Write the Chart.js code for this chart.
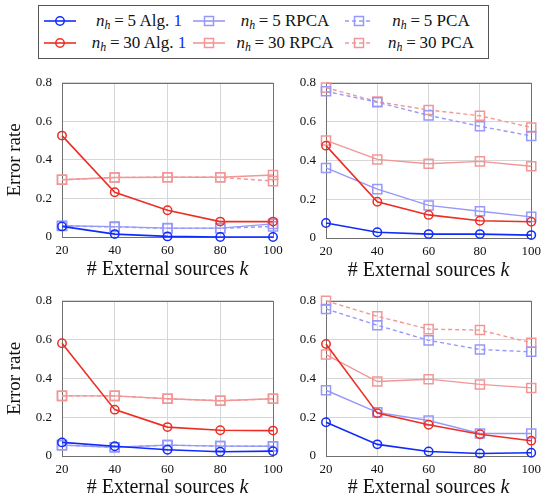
<!DOCTYPE html>
<html><head><meta charset="utf-8">
<script src="https://cdn.jsdelivr.net/npm/chart.js@4/dist/chart.umd.min.js"></script>
<style>
body{margin:0;background:#fff;}
#wrap{position:relative;width:547px;height:498px;overflow:hidden;background:#fff;font-family:"Liberation Serif",serif;}
canvas{position:absolute;}
#legend{position:absolute;left:38px;top:5px;width:451px;height:54px;border:1px solid #555;box-sizing:border-box;}
.lt{position:absolute;width:160px;text-align:center;font-family:"Liberation Serif",serif;font-size:17px;line-height:20px;white-space:nowrap;color:#111;}
.lt sub{font-size:70%;vertical-align:-3px;line-height:0;}
.lt .eq{padding:0 0.22em;}
.lm{position:absolute;}
</style></head>
<body>
<div id="wrap">
  <div id="legend"></div>
  <canvas id="tl" width="290" height="220" style="left:0;top:65px"></canvas>
  <canvas id="tr" width="277" height="220" style="left:270px;top:65px"></canvas>
  <canvas id="bl" width="290" height="215" style="left:0;top:283px"></canvas>
  <canvas id="br" width="277" height="215" style="left:270px;top:283px"></canvas>
</div>
<script>
// ---- data ----
const kValues = [20, 40, 60, 80, 100];
const yTickValues = [0, 0.2, 0.4, 0.6, 0.8];

// top-left panel
const tlAlg5   = [0.055, 0.015, 0.003, 0.000, 0.000];
const tlAlg30  = [0.526, 0.232, 0.139, 0.080, 0.080];
const tlRpca5  = [0.058, 0.054, 0.046, 0.046, 0.068];
const tlRpca30 = [0.297, 0.309, 0.310, 0.310, 0.322];
const tlPca5   = [0.057, 0.052, 0.045, 0.045, 0.055];
const tlPca30  = [0.297, 0.309, 0.310, 0.310, 0.290];

// top-right panel
const trAlg5   = [0.077, 0.030, 0.020, 0.020, 0.015];
const trAlg30  = [0.476, 0.187, 0.119, 0.089, 0.084];
const trRpca5  = [0.361, 0.252, 0.168, 0.138, 0.109];
const trRpca30 = [0.503, 0.405, 0.383, 0.395, 0.370];
const trPca5   = [0.756, 0.700, 0.632, 0.576, 0.526];
const trPca30  = [0.775, 0.703, 0.660, 0.630, 0.570];

// bottom-left panel
const blAlg5   = [0.070, 0.050, 0.032, 0.022, 0.025];
const blAlg30  = [0.581, 0.239, 0.149, 0.133, 0.131];
const blRpca5  = [0.056, 0.045, 0.056, 0.051, 0.050];
const blRpca30 = [0.310, 0.310, 0.295, 0.285, 0.295];
const blPca5   = [0.056, 0.045, 0.056, 0.051, 0.050];
const blPca30  = [0.310, 0.310, 0.295, 0.285, 0.295];

// bottom-right panel
const brAlg5   = [0.174, 0.060, 0.023, 0.013, 0.017];
const brAlg30  = [0.577, 0.221, 0.161, 0.112, 0.079];
const brRpca5  = [0.339, 0.225, 0.183, 0.116, 0.116];
const brRpca30 = [0.523, 0.384, 0.396, 0.369, 0.351];
const brPca5   = [0.758, 0.674, 0.596, 0.549, 0.537];
const brPca30  = [0.800, 0.720, 0.654, 0.649, 0.584];

const seriesLabels = ['n_h = 5 Alg. 1','n_h = 30 Alg. 1','n_h = 5 RPCA','n_h = 30 RPCA','n_h = 5 PCA','n_h = 30 PCA'];

// ---- styles ----
const BLUE = 'rgb(16,44,250)', RED = 'rgb(236,46,36)';
const LBLUE = 'rgb(150,152,250)', LRED = 'rgb(242,150,150)';
const styles = [
  {color: BLUE,  point: 'circle', dash: []},
  {color: RED,   point: 'circle', dash: []},
  {color: LBLUE, point: 'rect',   dash: []},
  {color: LRED,  point: 'rect',   dash: []},
  {color: LBLUE, point: 'rect',   dash: [4, 3]},
  {color: LRED,  point: 'rect',   dash: [4, 3]},
];

function makeDatasets(arrs) {
  return arrs.map((vals, i) => {
    const s = styles[i];
    return {
      label: seriesLabels[i],
      data: vals.map((v, j) => ({x: kValues[j], y: v})),
      borderColor: s.color,
      backgroundColor: 'rgba(0,0,0,0)',
      borderWidth: i < 2 ? 1.6 : 1.4,
      borderDash: s.dash,
      pointStyle: s.point,
      pointRadius: s.point === 'circle' ? 4.2 : 6.4,
      pointBorderWidth: 1.5,
      pointBorderColor: s.color,
      pointBackgroundColor: 'rgba(0,0,0,0)',
      tension: 0,
      clip: false,
    };
  });
}

const framePlugin = {
  id: 'frame',
  beforeDatasetsDraw(chart) {
    const {ctx, chartArea: a} = chart;
    ctx.save();
    ctx.strokeStyle = '#707070';
    ctx.lineWidth = 1;
    const l = Math.round(a.left) + 0.5, t = Math.round(a.top) + 0.5;
    const r = Math.round(a.right) + 0.5, b = Math.round(a.bottom) + 0.5;
    ctx.strokeRect(l, t, r - l, b - t);
    ctx.restore();
  },
  afterDraw(chart, args, opts) {
    const {ctx, chartArea: a} = chart;
    ctx.save();
    ctx.fillStyle = '#111';
    ctx.textBaseline = 'alphabetic';
    const f1 = '20px "Liberation Serif"', f2 = 'italic 20px "Liberation Serif"';
    const t1 = '# External sources ', t2 = 'k';
    ctx.font = f1; const w1 = ctx.measureText(t1).width;
    ctx.font = f2; const w2 = ctx.measureText(t2).width;
    const x0 = (a.left + a.right) / 2 - (w1 + w2) / 2;
    const y = a.bottom + opts.offset;
    ctx.font = f1; ctx.textAlign = 'left'; ctx.fillText(t1, x0, y);
    ctx.font = f2; ctx.fillText(t2, x0 + w1, y);
    ctx.restore();
  }
};

Chart.defaults.font.family = '"Liberation Serif", serif';
Chart.defaults.color = '#111';

function makeChart(id, arrs, g) {
  new Chart(document.getElementById(id), {
    type: 'line',
    data: {datasets: makeDatasets(arrs)},
    plugins: [framePlugin],
    options: {
      responsive: false,
      animation: false,
      devicePixelRatio: 1,
      layout: {padding: {top: g.top, right: g.right, left: 0, bottom: 0}},
      plugins: {legend: {display: false}, tooltip: {enabled: false}, frame: {offset: g.titleOffset}},
      scales: {
        x: {
          type: 'linear', min: 20, max: 100,
          afterBuildTicks: s => { s.ticks = kValues.map(v => ({value: v})); },
          afterFit: s => { s.height = g.xh; },
          grid: {color: '#d6d6d6', lineWidth: 1, drawTicks: false},
          border: {display: false},
          ticks: {font: {size: 13}, padding: 6, maxRotation: 0, color: '#111'},
        },
        y: {
          type: 'linear', min: 0, max: 0.8,
          afterBuildTicks: s => { s.ticks = yTickValues.map(v => ({value: v})); },
          afterFit: s => { s.width = g.yw; },
          grid: {color: '#d6d6d6', lineWidth: 1, drawTicks: false},
          border: {display: false},
          ticks: {font: {size: 13}, padding: 10, color: '#111',
                  callback: v => String(Math.round(v * 10) / 10)},
          title: {display: g.ytitle, text: 'Error rate', font: {size: 19}, padding: {top: 4, bottom: 0}, color: '#111'},
        }
      }
    }
  });
}

makeChart('tl', [tlAlg5, tlAlg30, tlRpca5, tlRpca30, tlPca5, tlPca30], {top: 12, right: 17, yw: 62, xh: 48, ytitle: true, titleOffset: 38});
makeChart('tr', [trAlg5, trAlg30, trRpca5, trRpca30, trPca5, trPca30], {top: 14, right: 11, yw: 56, xh: 47, ytitle: false, titleOffset: 38});
makeChart('bl', [blAlg5, blAlg30, blRpca5, blRpca30, blPca5, blPca30], {top: 12, right: 17, yw: 62, xh: 42, ytitle: true, titleOffset: 37});
makeChart('br', [brAlg5, brAlg30, brRpca5, brRpca30, brPca5, brPca30], {top: 14, right: 11, yw: 56, xh: 42, ytitle: false, titleOffset: 37});

// ---- legend (HTML) ----
const nh = '<i>n</i><sub><i>h</i></sub><span class="eq">=</span>';
const legendCells = [
  {i: 0, row: 0, col: 0, html: nh + '5 Alg. <span style="color:' + BLUE + '">1</span>'},
  {i: 2, row: 0, col: 1, html: nh + '5 RPCA'},
  {i: 4, row: 0, col: 2, html: nh + '5 PCA'},
  {i: 1, row: 1, col: 0, html: nh + '30 Alg. <span style="color:' + BLUE + '">1</span>'},
  {i: 3, row: 1, col: 1, html: nh + '30 RPCA'},
  {i: 5, row: 1, col: 2, html: nh + '30 PCA'},
];
const markerX = [44, 193, 343];
const textCX = [139, 285, 431];
const rowY = [21, 43];
const leg = document.getElementById('legend');
const L = 38, T = 5;
legendCells.forEach(c => {
  const s = styles[c.i];
  const svgNS = 'http://www.w3.org/2000/svg';
  const svg = document.createElementNS(svgNS, 'svg');
  svg.setAttribute('width', 32); svg.setAttribute('height', 14);
  svg.setAttribute('class', 'lm');
  svg.style.left = (markerX[c.col] - L - 1) + 'px';
  svg.style.top = (rowY[c.row] - T - 1 - 7) + 'px';
  const line = document.createElementNS(svgNS, 'line');
  line.setAttribute('x1', s.dash.length ? 2 : 0); line.setAttribute('x2', s.dash.length ? 30 : 32);
  line.setAttribute('y1', 7); line.setAttribute('y2', 7);
  line.setAttribute('stroke', s.color); line.setAttribute('stroke-width', 1.6);
  if (s.dash.length) line.setAttribute('stroke-dasharray', '4 3');
  svg.appendChild(line);
  let m;
  if (s.point === 'circle') {
    m = document.createElementNS(svgNS, 'circle');
    m.setAttribute('cx', 16); m.setAttribute('cy', 7); m.setAttribute('r', 4.2);
  } else {
    m = document.createElementNS(svgNS, 'rect');
    m.setAttribute('x', 11.5); m.setAttribute('y', 2.5); m.setAttribute('width', 9); m.setAttribute('height', 9);
  }
  m.setAttribute('fill', 'none'); m.setAttribute('stroke', s.color); m.setAttribute('stroke-width', 1.5);
  svg.appendChild(m);
  leg.appendChild(svg);
  const d = document.createElement('div');
  d.className = 'lt';
  d.innerHTML = c.html;
  d.style.left = (textCX[c.col] - L - 1 - 80) + 'px';
  d.style.top = (rowY[c.row] - T - 1 - 10) + 'px';
  leg.appendChild(d);
});
</script>
</body></html>
